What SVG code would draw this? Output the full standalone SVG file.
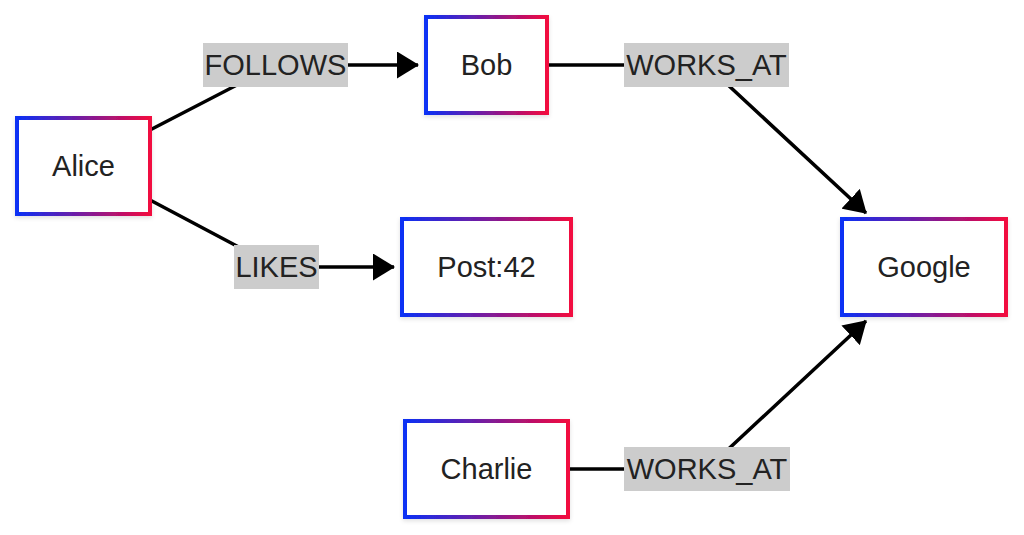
<svg xmlns="http://www.w3.org/2000/svg" width="1024" height="535" viewBox="0 0 1024 535">
  <defs>
    <linearGradient id="border" x1="0" y1="0" x2="1" y2="0">
      <stop offset="0" stop-color="#0a30f5"/>
      <stop offset="0.5" stop-color="#7a1c9c"/>
      <stop offset="1" stop-color="#f2073f"/>
    </linearGradient>
    <filter id="shadow" x="-10%" y="-10%" width="120%" height="125%">
      <feDropShadow dx="0" dy="2" stdDeviation="2" flood-color="#000" flood-opacity="0.12"/>
    </filter>
    <marker id="arrow" viewBox="0 0 22 27" refX="21" refY="13.5" markerWidth="22" markerHeight="27" markerUnits="userSpaceOnUse" orient="auto">
      <path d="M0,0 L22,13.5 L0,27 Z" fill="#000"/>
    </marker>
    <style>
      .box { fill: #fff; stroke: url(#border); stroke-width: 4; filter: url(#shadow); }
      .ntext { font-family: "Liberation Sans", Arial, sans-serif; font-size: 29px; fill: #222; text-anchor: middle; dominant-baseline: central; }
      .edge { fill: none; stroke: #000; stroke-width: 3.5; }
      .lbg { fill: #cccccc; }
      .ltext { font-family: "Liberation Sans", Arial, sans-serif; font-size: 29px; fill: #222; text-anchor: middle; dominant-baseline: central; }
    </style>
  </defs>

  <g id="connectors">
    <g id="e-alice-bob">
      <path class="edge" d="M150,130 L275.5,65 L418,65" marker-end="url(#arrow)"/>
      <rect class="lbg" x="203" y="43" width="145" height="44"/>
      <text class="ltext" x="275.5" y="65">FOLLOWS</text>
    </g>
    <g id="e-alice-post">
      <path class="edge" d="M150,200 L276.5,267 L394,267" marker-end="url(#arrow)"/>
      <rect class="lbg" x="234" y="245" width="85" height="44"/>
      <text class="ltext" x="276.5" y="267">LIKES</text>
    </g>
    <g id="e-bob-google">
      <path class="edge" d="M547,65 L706.5,65 L866,213" marker-end="url(#arrow)"/>
      <rect class="lbg" x="624" y="43" width="165" height="44"/>
      <text class="ltext" x="706.5" y="65">WORKS_AT</text>
    </g>
    <g id="e-charlie-google">
      <path class="edge" d="M568,469 L707,469 L866,321" marker-end="url(#arrow)"/>
      <rect class="lbg" x="624" y="447" width="166" height="44"/>
      <text class="ltext" x="707" y="469">WORKS_AT</text>
    </g>
  </g>

  <g id="node-alice">
    <rect class="box" x="17" y="118" width="133" height="96"/>
    <text class="ntext" x="83.5" y="166">Alice</text>
  </g>
  <g id="node-bob">
    <rect class="box" x="426" y="17" width="121" height="96"/>
    <text class="ntext" x="486.5" y="65">Bob</text>
  </g>
  <g id="node-post">
    <rect class="box" x="402" y="219" width="169" height="96"/>
    <text class="ntext" x="486.5" y="267">Post:42</text>
  </g>
  <g id="node-google">
    <rect class="box" x="842" y="219" width="164" height="96"/>
    <text class="ntext" x="924" y="267">Google</text>
  </g>
  <g id="node-charlie">
    <rect class="box" x="405" y="421" width="163" height="96"/>
    <text class="ntext" x="486.5" y="469">Charlie</text>
  </g>
</svg>
